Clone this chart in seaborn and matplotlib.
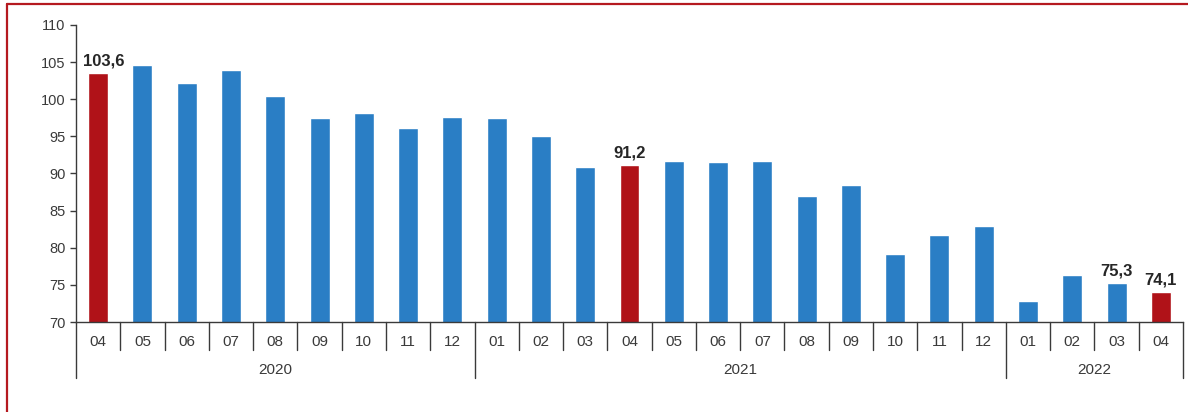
import matplotlib
matplotlib.use("Agg")
import matplotlib.pyplot as plt
import matplotlib.transforms as mtransforms
from matplotlib.lines import Line2D
import seaborn as sns
import pandas as pd

# ---- data ----
months = ["04", "05", "06", "07", "08", "09", "10", "11", "12",
          "01", "02", "03", "04", "05", "06", "07", "08", "09", "10", "11", "12",
          "01", "02", "03", "04"]
years = [2020] * 9 + [2021] * 12 + [2022] * 4
values = [103.6, 104.6, 102.2, 104.0, 100.4, 97.5, 98.2, 96.1, 97.6,
          97.5, 95.1, 90.9, 91.2, 91.7, 91.5, 91.7, 87.0, 88.5, 79.2, 81.7, 82.9,
          72.8, 76.3, 75.3, 74.1]
highlighted = ["2020-04", "2021-04", "2022-04"]
labeled = ["2020-04", "2021-04", "2022-03", "2022-04"]
yticks = [70, 75, 80, 85, 90, 95, 100, 105, 110]

BLUE = "#2a7ec5"
RED = "#b01218"
TXT = "#3a3a3a"

sns.set_theme(style="white")
plt.rcParams["font.family"] = ["Liberation Sans", "DejaVu Sans"]

df = pd.DataFrame({
    "key": [f"{y}-{m}" for y, m in zip(years, months)],
    "month": months,
    "year": years,
    "value": values,
})
colors = [RED if k in highlighted else BLUE for k in df["key"]]

W, H = 1188, 412
fig = plt.figure(figsize=(W / 100, H / 100), dpi=100)
ax = fig.add_axes([76 / W, (H - 322) / H, (1183 - 76) / W, (322 - 25) / H])

sns.barplot(data=df, x="key", y="value", hue="key", palette=colors,
            width=0.45, saturation=1, legend=False, ax=ax)

ax.set_ylim(yticks[0], yticks[-1])
ax.set_xlim(-0.5, len(df) - 0.5)
ax.set_yticks(yticks)
ax.set_xticks(range(len(df)))
ax.set_xticklabels(df["month"])
ax.set_xlabel("")
ax.set_ylabel("")
ax.tick_params(axis="x", length=0, pad=9, labelsize=11, labelcolor=TXT)
ax.tick_params(axis="y", left=True, length=4.5, width=1, direction="out", pad=3,
               labelsize=10.5, labelcolor=TXT, color=TXT)
for s in ["top", "right"]:
    ax.spines[s].set_visible(False)
for s in ["left", "bottom"]:
    ax.spines[s].set_color(TXT)
    ax.spines[s].set_linewidth(1)

# separators under the axis
trans = mtransforms.blended_transform_factory(ax.transData, ax.transAxes)
n = len(df)
for i in range(n + 1):
    x = i - 0.5
    boundary = i == 0 or i == n or years[i] != years[i - 1]
    y0 = -0.189 if boundary else -0.094
    ax.plot([x, x], [0, y0], transform=trans, clip_on=False, color=TXT, lw=1)

# year labels
for yr in sorted(set(years)):
    idx = [i for i, y in enumerate(years) if y == yr]
    c = (idx[0] + idx[-1]) / 2
    ax.text(c, -0.16, str(yr), transform=trans, ha="center", va="center",
            fontsize=11, color=TXT)

# value labels
for i, row in df.iterrows():
    if row["key"] in labeled:
        dx = 4 if i == 0 else 0  # keep the first label clear of the y axis
        ax.annotate(f"{row['value']:.1f}".replace(".", ","), xy=(i, row["value"]),
                    xytext=(dx, 3), textcoords="offset points", ha="center",
                    va="bottom", fontsize=12, fontweight="bold", color="#262626")

# red frame (top and left)
fc = "#b5191f"
fig.add_artist(Line2D([7 / W, 1], [1 - 4 / H, 1 - 4 / H], transform=fig.transFigure,
                      color=fc, lw=1.6))
fig.add_artist(Line2D([7 / W, 7 / W], [0, 1 - 4 / H], transform=fig.transFigure,
                      color=fc, lw=1.6))

fig.savefig("out.png", dpi=100)
